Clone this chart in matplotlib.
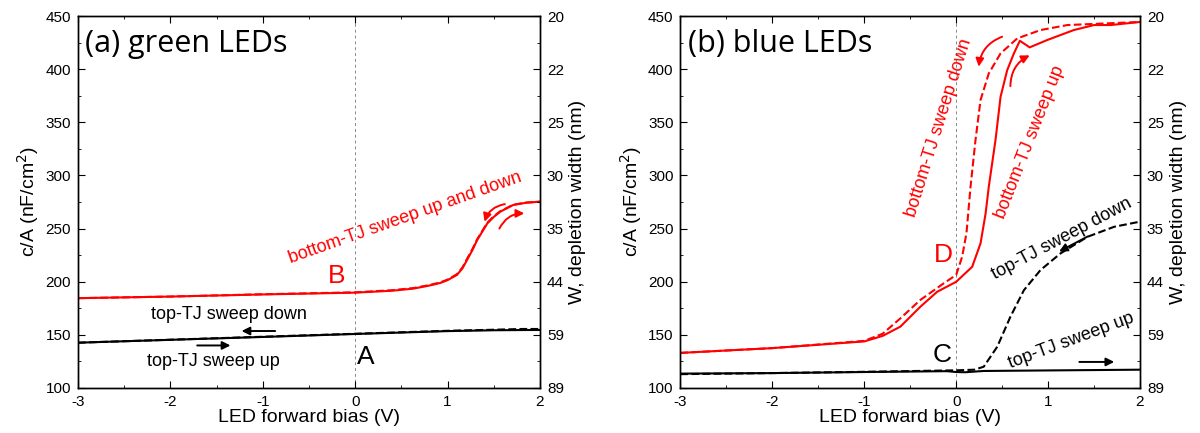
import matplotlib.pyplot as plt
from matplotlib.ticker import MultipleLocator

plt.rcParams['font.family'] = ['Liberation Sans', 'DejaVu Sans']

# (a) green LEDs
g_bot_x = [-3, -2, -1, 0, 0.4, 0.63, 0.8, 0.92, 1.0, 1.1, 1.16, 1.21, 1.27, 1.32, 1.43, 1.5,
           1.57, 1.71, 1.85, 2.0]
g_bot_up = [184.5, 186, 188, 189.7, 191.5, 193.5, 196.3, 198.8, 201.5, 206.3, 212.5, 220.4,
            230, 239.2, 254.9, 261, 265.9, 272.2, 274.3, 275.3]
g_bot_dn = [184.5, 186, 188.2, 190, 192, 194, 196.8, 199.3, 202, 207, 213.3, 221.5,
            231, 240, 255.5, 261.6, 266.3, 272.4, 274.5, 275.3]
g_top_x = [-3, -2, -1, 0, 1, 1.5, 1.8, 2.0]
g_top_up = [142.6, 145.3, 148, 150.8, 153.5, 154.3, 154.5, 154.6]
g_top_dn = [142.6, 145.4, 148.2, 151, 153.8, 154.8, 155.5, 155.5]

# (b) blue LEDs
b_up_x = [-3, -2, -1, -0.8, -0.607, -0.39, -0.207, 0.0, 0.174, 0.265, 0.32, 0.355, 0.428,
          0.483, 0.555, 0.628, 0.693, 0.80, 0.99, 1.28, 1.5, 1.68, 2.0]
b_up_y = [133, 137.5, 143.8, 149, 157.7, 176.4, 190.5, 199.9, 214, 236, 264, 289.4, 333.3,
          374, 399, 414.8, 426.7, 420.5, 427.4, 436.8, 441.5, 441.5, 444.4]
b_dn_x = [-3, -2, -1, -0.8, -0.607, -0.39, -0.135, 0.0, 0.065, 0.112, 0.156, 0.21, 0.265,
          0.355, 0.483, 0.664, 0.918, 1.21, 2.0]
b_dn_y = [133, 137.5, 144.3, 151, 165.5, 182.8, 198.5, 206.3, 223.5, 245.5, 289, 333, 370.9,
          396, 414.8, 428.9, 436.8, 441.5, 444.4]
b_top_up_x = [-3, -2, -1, -0.1, 0.0, 0.1, 0.3, 1.0, 2.0]
b_top_up_y = [113.5, 114, 115, 115.8, 115, 114.8, 116, 116.5, 117.2]
b_top_dn_x = [-3, -2, -1, 0.0, 0.2, 0.3, 0.447, 0.59, 0.737, 0.918, 1.135, 1.43, 1.72, 2.0]
b_top_dn_y = [113, 114, 115.2, 116.6, 117.2, 120, 138.8, 167, 192, 211, 226.6, 242.3, 251.7, 256.5]

ca_ticks = [100, 150, 200, 250, 300, 350, 400, 450]
w_labels = ['89', '59', '44', '35', '30', '25', '22', '20']
x_ticks = [-3, -2, -1, 0, 1, 2]

RED = '#ff0000'
FS = 11
LFS = 14
AFS = 13
TITLE_FONT = ['Open Sans', 'DejaVu Sans']


def setup(ax):
    ax.set_xlim(-3, 2)
    ax.set_ylim(100, 450)
    ax.set_xticks(x_ticks)
    ax.set_xticklabels([str(v) for v in x_ticks])
    ax.set_yticks(ca_ticks)
    ax.xaxis.set_minor_locator(MultipleLocator(0.5))
    ax.yaxis.set_minor_locator(MultipleLocator(25))
    ax.tick_params(which='both', direction='in', top=True, right=False, labelsize=FS)
    ax.tick_params(which='major', length=5, pad=5)
    ax.tick_params(which='minor', length=2.5)
    ax.axvline(0, color='#888888', lw=0.7, ls=(0, (3, 3)), zorder=1)
    ax.set_xlabel('LED forward bias (V)', fontsize=LFS, labelpad=0)
    ax.set_ylabel('c/A (nF/cm$^2$)', fontsize=LFS, labelpad=3)
    tw = ax.twinx()
    tw.set_ylim(100, 450)
    tw.set_yticks(ca_ticks)
    tw.set_yticklabels(w_labels)
    tw.yaxis.set_minor_locator(MultipleLocator(25))
    tw.tick_params(which='both', direction='in', labelsize=FS)
    tw.tick_params(which='major', length=5, pad=5)
    tw.tick_params(which='minor', length=2.5)
    tw.set_ylabel('W, depletion width (nm)', fontsize=LFS, labelpad=4)
    for a in (ax, tw):
        for s in a.spines.values():
            s.set_linewidth(1.0)


def curved(ax, start, end, rad, color):
    ax.annotate('', xy=end, xytext=start,
                arrowprops=dict(arrowstyle='-|>', color=color, lw=1.4, mutation_scale=12,
                                shrinkA=0, shrinkB=0, connectionstyle=f'arc3,rad={rad}'))


fig = plt.figure(figsize=(12, 4.33), dpi=100)
ax1 = fig.add_axes([0.065, 0.104, 0.385, 0.859])
ax2 = fig.add_axes([0.567, 0.104, 0.383, 0.859])
setup(ax1)
setup(ax2)

# panel (a)
ax1.plot(g_bot_x, g_bot_dn, color=RED, lw=1.5, ls='--')
ax1.plot(g_bot_x, g_bot_up, color=RED, lw=1.5)
ax1.plot(g_top_x, g_top_dn, color='black', lw=1.5, ls='--')
ax1.plot(g_top_x, g_top_up, color='black', lw=1.5)
ax1.text(-2.92, 438, '(a) green LEDs', fontsize=22, family=TITLE_FONT, va='top', ha='left')
ax1.text(0.54, 260.4, 'bottom-TJ sweep up and down', color=RED, fontsize=AFS, rotation=19.5,
         ha='center', va='center', rotation_mode='anchor')
ax1.text(-0.2, 205.4, 'B', color=RED, fontsize=19, ha='center', va='center')
ax1.text(0.11, 129.5, 'A', color='black', fontsize=19, ha='center', va='center')
ax1.text(-1.37, 169.6, 'top-TJ sweep down', fontsize=AFS, ha='center', va='center')
ax1.text(-1.54, 124.7, 'top-TJ sweep up', fontsize=AFS, ha='center', va='center')
curved(ax1, (-0.866, 153.6), (-1.23, 153.6), 0, 'black')
curved(ax1, (-1.71, 140), (-1.35, 140), 0, 'black')
curved(ax1, (1.62, 273), (1.4, 256.4), 0.3, RED)
curved(ax1, (1.56, 250), (1.83, 264.3), -0.3, RED)

# panel (b)
ax2.plot(b_dn_x, b_dn_y, color=RED, lw=1.5, ls='--')
ax2.plot(b_up_x, b_up_y, color=RED, lw=1.5)
ax2.plot(b_top_dn_x, b_top_dn_y, color='black', lw=1.5, ls='--')
ax2.plot(b_top_up_x, b_top_up_y, color='black', lw=1.5)
ax2.text(-2.92, 438, '(b) blue LEDs', fontsize=22, family=TITLE_FONT, va='top', ha='left')
ax2.text(-0.19, 344.6, 'bottom-TJ sweep down', color=RED, fontsize=AFS, rotation=72.5,
         ha='center', va='center', rotation_mode='anchor')
ax2.text(0.8, 331.6, 'bottom-TJ sweep up', color=RED, fontsize=AFS, rotation=68.5,
         ha='center', va='center', rotation_mode='anchor')
ax2.text(-0.135, 225, 'D', color=RED, fontsize=19, ha='center', va='center')
ax2.text(-0.15, 131, 'C', color='black', fontsize=19, ha='center', va='center')
ax2.text(1.15, 240, 'top-TJ sweep down', fontsize=AFS, rotation=28,
         ha='center', va='center', rotation_mode='anchor')
ax2.text(1.25, 144.5, 'top-TJ sweep up', fontsize=AFS, rotation=20.5,
         ha='center', va='center', rotation_mode='anchor')
curved(ax2, (1.43, 242.5), (1.12, 228.4), 0, 'black')
curved(ax2, (1.34, 124.5), (1.72, 124.5), 0, 'black')
curved(ax2, (0.5, 430.5), (0.246, 402.3), 0.3, RED)
curved(ax2, (0.59, 384), (0.80, 413), -0.3, RED)

fig.savefig('out.png', dpi=100)
